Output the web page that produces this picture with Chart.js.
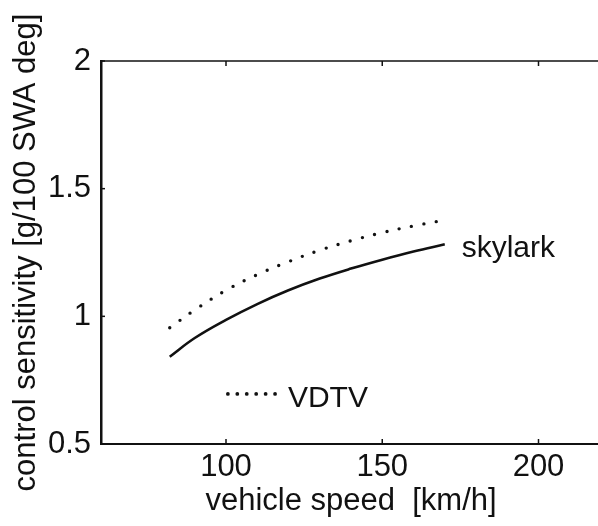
<!DOCTYPE html>
<html><head><meta charset="utf-8">
<script src="https://cdn.jsdelivr.net/npm/chart.js@4/dist/chart.umd.min.js"></script>
<style>html,body{margin:0;padding:0;overflow:hidden;background:#fff}canvas{display:block}</style>
</head><body>
<canvas id="c" width="601" height="526"></canvas>
<script>
// ---- data ----
const speeds  = [82, 90, 100, 110, 120, 130, 140, 150, 160, 170];
const skylark = [0.842, 0.915, 0.986, 1.048, 1.102, 1.148, 1.187, 1.222, 1.254, 1.282];
const vdtv    = [0.955, 1.025, 1.102, 1.163, 1.214, 1.259, 1.296, 1.328, 1.354, 1.377];
const xTicks = [100, 150, 200];
const yTicks = [0.5, 1, 1.5, 2];
const xRange = [60, 220];
const yRange = [0.5, 2];
const xTitle = 'vehicle speed  [km/h]';
const yTitle = 'control sensitivity [g/100 SWA deg]';
// labels: [text, x, y]
const curveLabel  = ['skylark', 175.4, 1.234];
const legendLabel = ['VDTV', 119.8, 0.646];
const legendSample = [100.6, 115.7, 0.696];

const FONT = "'Liberation Sans', Arial, Helvetica, sans-serif";
const INK = '#111';

const decor = {
  id: 'decor',
  afterDatasetsDraw(chart) {
    const {ctx, chartArea: a, scales: {x, y}} = chart;
    ctx.save();
    ctx.strokeStyle = INK;
    // top frame line
    ctx.lineWidth = 1.5;
    ctx.beginPath(); ctx.moveTo(a.left, a.top); ctx.lineTo(a.right, a.top); ctx.stroke();
    // inward ticks
    xTicks.forEach(v => {
      const px = x.getPixelForValue(v);
      ctx.beginPath(); ctx.moveTo(px, a.bottom); ctx.lineTo(px, a.bottom - 5); ctx.stroke();
      ctx.beginPath(); ctx.moveTo(px, a.top); ctx.lineTo(px, a.top + 5); ctx.stroke();
    });
    yTicks.forEach(v => {
      const py = y.getPixelForValue(v);
      ctx.beginPath(); ctx.moveTo(a.left, py); ctx.lineTo(a.left + 4, py); ctx.stroke();
    });
    // text labels
    ctx.fillStyle = INK;
    ctx.font = '30px ' + FONT;
    ctx.textBaseline = 'alphabetic';
    ctx.textAlign = 'left';
    ctx.fillText(curveLabel[0], x.getPixelForValue(curveLabel[1]), y.getPixelForValue(curveLabel[2]));
    ctx.fillText(legendLabel[0], x.getPixelForValue(legendLabel[1]), y.getPixelForValue(legendLabel[2]));
    // legend dotted sample
    const x0 = x.getPixelForValue(legendSample[0]), x1 = x.getPixelForValue(legendSample[1]);
    const py = y.getPixelForValue(legendSample[2]);
    const n = 6;
    for (let i = 0; i < n; i++) {
      const px = x0 + (x1 - x0) * i / (n - 1);
      ctx.beginPath(); ctx.arc(px, py, 1.9, 0, Math.PI * 2); ctx.fill();
    }
    ctx.restore();
  }
};

new Chart(document.getElementById('c'), {
  type: 'line',
  data: {
    datasets: [
      {
        label: 'skylark',
        data: speeds.map((s, i) => ({x: s, y: skylark[i]})),
        borderColor: INK, borderWidth: 2.6, pointRadius: 0,
        tension: 0.4, fill: false
      },
      {
        label: 'VDTV',
        data: speeds.map((s, i) => ({x: s, y: vdtv[i]})),
        borderColor: INK, borderWidth: 3.4, pointRadius: 0,
        borderDash: [0, 12.6], borderCapStyle: 'round',
        tension: 0.4, fill: false
      }
    ]
  },
  options: {
    responsive: false,
    animation: false,
    events: [],
    layout: {padding: {top: 61, right: 0, bottom: 0, left: 0}},
    plugins: {legend: {display: false}, tooltip: {enabled: false}},
    scales: {
      x: {
        type: 'linear', min: xRange[0], max: xRange[1],
        afterBuildTicks: s => { s.ticks = xTicks.map(v => ({value: v})); },
        afterFit: s => { s.height = 82; },
        grid: {display: false, drawTicks: false},
        border: {display: true, color: INK, width: 2},
        ticks: {color: INK, font: {family: FONT, size: 31}, padding: 5, maxRotation: 0, autoSkip: false,
                callback: v => String(v)},
        title: {display: true, text: xTitle, color: INK, font: {family: FONT, size: 31}, padding: {top: 0, bottom: 6}}
      },
      y: {
        type: 'linear', min: yRange[0], max: yRange[1],
        afterBuildTicks: s => { s.ticks = yTicks.map(v => ({value: v})); },
        afterFit: s => { s.width = 101; },
        grid: {display: false, drawTicks: false},
        border: {display: true, color: INK, width: 2.5},
        ticks: {color: INK, font: {family: FONT, size: 31}, padding: 10, autoSkip: false,
                callback: v => String(v)},
        title: {display: true, text: yTitle, color: INK, font: {family: FONT, size: 31}, padding: {top: 8, bottom: 0}}
      }
    }
  },
  plugins: [decor]
});
</script>
</body></html>
